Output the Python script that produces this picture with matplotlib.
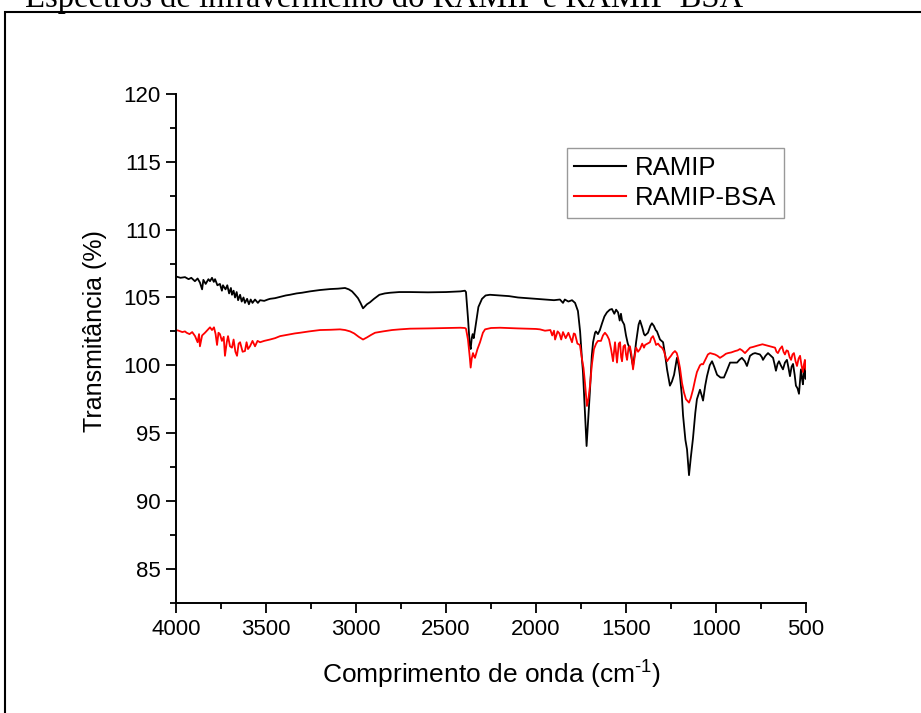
import matplotlib
matplotlib.use("Agg")
import matplotlib.pyplot as plt
from matplotlib.ticker import MultipleLocator
from matplotlib.patches import Rectangle

# RAMIP spectrum (wavenumber cm-1, transmittance %)
ramip_wn = [4000, 3975, 3950, 3930, 3915, 3895, 3880, 3867, 3855, 3848, 3835, 3820, 3811, 3800,
            3790, 3783, 3770, 3756, 3745, 3739, 3725, 3715, 3705, 3695, 3689, 3680, 3672, 3663,
            3655, 3644, 3635, 3625, 3617, 3605, 3595, 3585, 3575, 3561, 3545, 3533, 3510, 3490,
            3478, 3450, 3420, 3390, 3367, 3330, 3300, 3256, 3200, 3144, 3100, 3061, 3040, 3022,
            3005, 2989, 2975, 2961, 2950, 2939, 2922, 2900, 2870, 2840, 2810, 2760, 2700, 2600,
            2500, 2420, 2395, 2389, 2378, 2368, 2363, 2357, 2352, 2346, 2339, 2320, 2300, 2280,
            2256, 2200, 2150, 2100, 2050, 2000, 1950, 1900, 1867, 1850, 1840, 1820, 1800, 1783,
            1775, 1767, 1755, 1745, 1739, 1728, 1719, 1710, 1700, 1690, 1683, 1672, 1667, 1656,
            1645, 1633, 1620, 1606, 1590, 1578, 1565, 1555, 1544, 1535, 1528, 1522, 1510, 1500,
            1490, 1478, 1465, 1461, 1450, 1444, 1430, 1422, 1410, 1400, 1394, 1378, 1365, 1356,
            1345, 1335, 1328, 1311, 1294, 1282, 1272, 1256, 1245, 1233, 1217, 1208, 1200, 1190,
            1183, 1170, 1161, 1150, 1140, 1128, 1115, 1106, 1089, 1080, 1072, 1060, 1050, 1035,
            1022, 1010, 994, 975, 956, 940, 922, 900, 883, 870, 856, 840, 828, 818, 811, 795,
            783, 770, 756, 745, 739, 725, 711, 695, 683, 675, 667, 658, 650, 640, 628, 617, 606,
            597, 589, 580, 572, 563, 556, 547, 539, 533, 528, 522, 517, 511, 506, 502, 500]
ramip_t = [106.55, 106.45, 106.5, 106.35, 106.45, 106.2, 106.4, 106.1, 105.6, 106.3, 106.0, 106.35,
           106.2, 106.45, 106.15, 106.35, 105.9, 106.0, 105.5, 105.9, 105.6, 105.9, 105.3, 105.7,
           105.2, 105.5, 105.0, 105.4, 104.8, 105.2, 104.7, 105.0, 104.6, 104.9, 104.5, 104.85,
           104.6, 104.85, 104.6, 104.8, 104.75, 104.85, 104.9, 104.95, 105.05, 105.15, 105.2, 105.3,
           105.35, 105.45, 105.55, 105.62, 105.65, 105.7, 105.6, 105.45, 105.2, 104.95, 104.6, 104.2,
           104.35, 104.5, 104.65, 104.9, 105.2, 105.3, 105.35, 105.4, 105.4, 105.38, 105.4, 105.45,
           105.5, 105.4, 103.5, 101.5, 101.2, 102.0, 102.3, 102.0, 102.6, 104.3, 104.9, 105.15,
           105.2, 105.15, 105.1, 105.0, 104.95, 104.9, 104.85, 104.8, 104.85, 104.6, 104.85, 104.7,
           104.8, 104.6, 104.3, 104.0, 102.5, 100.5, 99.5, 96.5, 94.05, 96.0, 98.2, 100.7, 101.7,
           102.4, 102.5, 102.3, 102.6, 103.1, 103.6, 103.9, 104.1, 104.15, 103.8, 104.1, 103.9,
           103.3, 103.8, 103.3, 103.0, 102.2, 101.6, 101.2, 100.2, 99.95, 101.0, 101.7, 103.0,
           103.3, 102.8, 102.3, 102.2, 102.4, 102.9, 103.1, 102.9, 102.6, 102.5, 101.9, 101.7,
           100.7, 99.7, 98.5, 98.8, 99.3, 100.55, 100.0, 99.2, 97.8, 96.3, 94.5, 93.8, 91.9, 93.2,
           94.6, 96.5, 97.5, 98.2, 97.8, 97.4, 98.5, 99.2, 100.0, 100.3, 99.9, 99.3, 99.1, 99.1,
           99.6, 100.2, 100.2, 100.2, 100.4, 100.55, 100.3, 99.95, 100.4, 100.7, 100.85, 100.9,
           100.85, 100.8, 100.6, 100.4, 100.7, 100.9, 100.7, 100.55, 100.1, 99.6, 100.1, 100.3,
           100.0, 99.7, 100.2, 100.4, 99.8, 99.2, 99.9, 100.1, 99.3, 98.5, 98.3, 97.9, 98.9, 99.7,
           99.0, 98.6, 99.6, 100.1, 99.0, 99.5]

# RAMIP-BSA spectrum
bsa_wn = [4000, 3985, 3965, 3950, 3941, 3925, 3910, 3894, 3880, 3872, 3867, 3855, 3839, 3825,
          3811, 3800, 3789, 3780, 3772, 3764, 3756, 3745, 3735, 3728, 3718, 3711, 3700, 3689,
          3680, 3670, 3661, 3652, 3644, 3630, 3617, 3608, 3600, 3589, 3575, 3561, 3547, 3533,
          3510, 3478, 3450, 3422, 3380, 3340, 3311, 3260, 3200, 3140, 3089, 3060, 3033, 3010,
          2985, 2961, 2940, 2915, 2894, 2850, 2800, 2756, 2700, 2600, 2500, 2420, 2395, 2389,
          2378, 2368, 2363, 2357, 2350, 2345, 2339, 2325, 2311, 2295, 2283, 2250, 2200, 2100,
          2000, 1978, 1950, 1920, 1910, 1900, 1894, 1880, 1870, 1860, 1850, 1835, 1820, 1800,
          1790, 1783, 1770, 1756, 1745, 1736, 1728, 1717, 1708, 1700, 1690, 1678, 1666, 1656,
          1639, 1628, 1617, 1605, 1594, 1583, 1572, 1561, 1555, 1550, 1540, 1533, 1527, 1522,
          1514, 1506, 1500, 1494, 1486, 1478, 1470, 1461, 1452, 1444, 1433, 1422, 1410, 1400,
          1394, 1380, 1367, 1360, 1350, 1340, 1333, 1322, 1311, 1300, 1289, 1280, 1272, 1262,
          1250, 1240, 1228, 1218, 1211, 1200, 1189, 1178, 1167, 1150, 1140, 1128, 1115, 1106,
          1089, 1080, 1072, 1060, 1045, 1033, 1020, 1006, 992, 978, 960, 945, 933, 915, 894,
          880, 867, 855, 839, 825, 811, 795, 783, 770, 756, 742, 728, 715, 700, 686, 672, 664,
          656, 645, 633, 625, 617, 608, 600, 591, 583, 575, 567, 558, 550, 541, 533, 525, 517,
          511, 506, 503, 500]
bsa_t = [102.6, 102.55, 102.45, 102.5, 102.4, 102.3, 102.45, 102.15, 101.7, 102.3, 101.4, 102.2,
         102.4, 102.6, 102.8, 102.6, 102.8, 102.3, 101.5, 102.4, 102.3, 101.8, 102.1, 100.7, 101.7,
         102.15, 101.4, 101.3, 101.9, 101.0, 100.7, 101.6, 101.7, 101.0, 101.05, 101.7, 101.2,
         101.4, 101.8, 101.4, 101.8, 101.7, 101.8, 101.9, 102.0, 102.15, 102.25, 102.35, 102.4,
         102.5, 102.6, 102.62, 102.65, 102.6, 102.5, 102.35, 102.1, 101.9, 102.05, 102.25, 102.4,
         102.5, 102.6, 102.65, 102.7, 102.72, 102.75, 102.77, 102.75, 102.7, 101.9, 100.6, 99.83,
         100.5, 100.9, 100.7, 100.55, 101.2, 101.7, 102.4, 102.65, 102.75, 102.77, 102.72, 102.68,
         102.65, 102.55, 102.6, 102.2, 102.55, 101.9, 102.5, 102.35, 101.9, 102.45, 102.0, 102.4,
         101.7, 102.35, 102.3, 101.6, 101.5, 100.5, 99.8, 98.7, 97.0, 97.6, 98.5, 100.0, 101.2,
         101.6, 101.8, 101.8, 102.2, 102.4, 102.2, 101.9, 101.2, 100.3, 101.7, 100.9, 100.2, 101.6,
         101.7, 100.6, 100.3, 101.4, 101.5, 100.8, 100.4, 101.3, 101.4, 100.8, 99.7, 100.6, 101.3,
         101.0, 101.2, 101.6, 101.3, 101.5, 101.6, 101.7, 102.0, 102.15, 101.8, 101.5, 101.6,
         101.4, 101.3, 101.05, 100.6, 100.3, 100.5, 100.7, 100.9, 101.05, 100.9, 100.55, 99.8,
         98.7, 98.0, 97.5, 97.25, 97.6, 98.2, 99.0, 99.5, 100.0, 100.1, 100.07, 100.4, 100.8,
         100.9, 100.85, 100.8, 100.7, 100.55, 100.7, 100.85, 100.9, 100.95, 101.05, 101.1, 101.2,
         101.1, 100.9, 101.1, 101.3, 101.35, 101.4, 101.45, 101.5, 101.55, 101.5, 101.45, 101.4,
         101.35, 101.3, 101.0, 100.9, 101.2, 101.4, 101.0, 100.8, 101.1, 101.05, 100.6, 100.4,
         100.8, 100.9, 100.3, 99.95, 100.5, 100.7, 100.0, 99.5, 100.1, 100.4, 99.8, 99.7]

x_ticks = [4000, 3500, 3000, 2500, 2000, 1500, 1000, 500]
y_ticks = [85, 90, 95, 100, 105, 110, 115, 120]

plt.rcParams['font.family'] = ['Liberation Sans', 'DejaVu Sans']
plt.rcParams['mathtext.default'] = 'regular'

fig = plt.figure(figsize=(9.21, 7.13), dpi=100)
ax = fig.add_axes([176 / 921, 1 - 602.7 / 713, 630 / 921, 508.7 / 713])

ax.plot(ramip_wn, ramip_t, color='black', lw=1.3, label='RAMIP')
ax.plot(bsa_wn, bsa_t, color='red', lw=1.3, label='RAMIP-BSA')

ax.set_xlim(4000, 500)
ax.set_ylim(82.5, 120)
ax.set_xticks(x_ticks)
ax.set_yticks(y_ticks)
ax.xaxis.set_minor_locator(MultipleLocator(250))
ax.yaxis.set_minor_locator(MultipleLocator(2.5))

for side in ['top', 'right']:
    ax.spines[side].set_visible(False)
for side in ['left', 'bottom']:
    ax.spines[side].set_linewidth(1.4)
ax.tick_params(which='major', direction='out', length=7, width=1.3, labelsize=16)
ax.tick_params(which='minor', direction='out', length=4, width=1.3)
ax.tick_params(axis='x', which='major', pad=5)
ax.tick_params(axis='y', which='major', pad=4)

ax.set_xlabel('Comprimento de onda (cm$^{\u20101}$)', fontsize=19, labelpad=13)
ax.set_ylabel('Transmitância (%)', fontsize=18)
ax.yaxis.set_label_coords(-0.11, 0.534)

leg = ax.legend(loc='upper left', bbox_to_anchor=(566.7 / 921, 1 - 148 / 713),
                bbox_transform=fig.transFigure, fontsize=18.5, frameon=True, fancybox=False,
                borderpad=0.3, labelspacing=0.25, handlelength=2.0, handletextpad=0.35,
                borderaxespad=0)
leg.get_frame().set_edgecolor('#808080')
leg.get_frame().set_linewidth(1.0)
for line in leg.get_lines():
    line.set_linewidth(1.5)

# page frame (left and top edges visible) and the clipped caption above it
fig.add_artist(Rectangle((5 / 921, -0.05), 2.0, 1 - 12 / 713 + 0.05, transform=fig.transFigure,
                         fill=False, edgecolor='black', lw=1.5))
fig.text(25 / 921, 1 - 7 / 713, 'Espectros de infravermelho do RAMIP e RAMIP-BSA',
         family=['Liberation Serif', 'DejaVu Serif'], fontsize=23.5, va='baseline', ha='left')

fig.savefig('out.png', dpi=100, facecolor='white')
